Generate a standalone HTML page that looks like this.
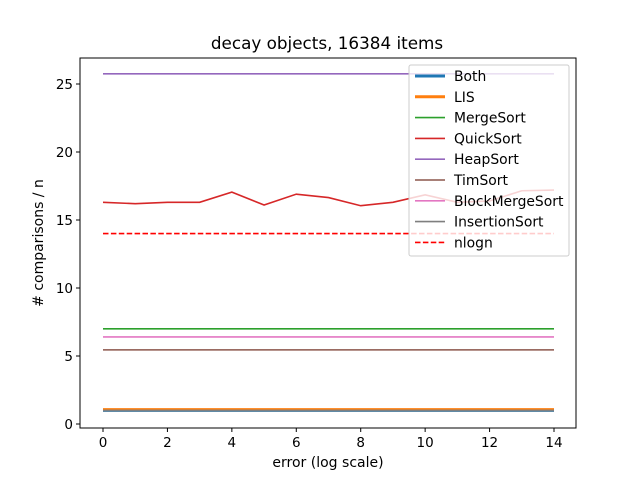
<!DOCTYPE html>
<html><head><meta charset="utf-8"><style>
body{margin:0;background:#fff;font-family:"Liberation Sans","DejaVu Sans",sans-serif}
text{font-family:"DejaVu Sans","Liberation Sans",sans-serif}
</style></head><body>
<svg id="c" width="640" height="480" xmlns="http://www.w3.org/2000/svg"></svg>
<script>
const xs=[0,1,2,3,4,5,6,7,8,9,10,11,12,13,14];
const quick=[16.3,16.2,16.3,16.3,17.05,16.1,16.9,16.65,16.05,16.3,16.85,16.3,16.4,17.15,17.2];
const seriesNames=["Both","LIS","MergeSort","QuickSort","HeapSort","TimSort","BlockMergeSort","InsertionSort","nlogn"];
const constVals=[1.0,1.06,7.0,null,25.75,5.45,6.4,1.0,14.0];
const xTicks=[0,2,4,6,8,10,12,14];
const yTicks=[0,5,10,15,20,25];
const colors=["#1f77b4","#ff7f0e","#2ca02c","#d62728","#9467bd","#8c564b","#e377c2","#7f7f7f","red"];
const widths=[3,3,1.6,1.6,1.6,1.6,1.6,1.6,1.6];
const L=80,R=576,T=58,B=428;
const X=v=>103+v*(554-103)/14;
const Y=v=>424-v*(424-84)/25;
const svg=document.getElementById('c');
const NS="http://www.w3.org/2000/svg";
function mk(t,a,txt){const e=document.createElementNS(NS,t);for(const k in a)e.setAttribute(k,a[k]);if(txt!=null)e.textContent=txt;svg.appendChild(e);return e;}
let e=mk('text',{x:327,y:49,'text-anchor':'middle','font-size':16.8},'decay objects, 16384 items');

seriesNames.forEach((n,i)=>{
  const vals=i===3?quick:xs.map(()=>constVals[i]);
  const pts=xs.map((x,j)=>X(x)+','+Y(vals[j])).join(' ');
  const p=mk('polyline',{points:pts,fill:'none',stroke:colors[i],'stroke-width':widths[i]});
  if(i===8)p.setAttribute('stroke-dasharray','5.5,2.4');
  
  
});
e=mk('rect',{x:L,y:T,width:R-L,height:B-T,fill:'none',stroke:'#000','stroke-width':1});

xTicks.forEach(t=>{mk('line',{x1:X(t),x2:X(t),y1:B,y2:B+4,stroke:'#000'});
  e=mk('text',{x:X(t),y:B+19,'text-anchor':'middle','font-size':13.5},t);
  });
yTicks.forEach(t=>{mk('line',{x1:L-4,x2:L,y1:Y(t),y2:Y(t),stroke:'#000'});
  e=mk('text',{x:L-7,y:Y(t)+5,'text-anchor':'end','font-size':13.5},t);
  });
e=mk('text',{x:328,y:467,'text-anchor':'middle','font-size':14},'error (log scale)');

e=mk('text',{x:43,y:243,'text-anchor':'middle','font-size':14,transform:'rotate(-90 43 243)'},'# comparisons / n');

e=mk('rect',{x:409,y:65,width:160,height:191,rx:2,fill:'rgba(255,255,255,0.8)',stroke:'#ccc'});

seriesNames.forEach((n,i)=>{
  const y=76+i*20.8;
  const l=mk('line',{x1:415,x2:445,y1:y,y2:y,stroke:colors[i],'stroke-width':widths[i]});
  if(i===8)l.setAttribute('stroke-dasharray','5.5,2.4');
  const t=mk('text',{x:454,y:y+5,'font-size':13.9},n);
  
  
});
</script>
</body></html>
